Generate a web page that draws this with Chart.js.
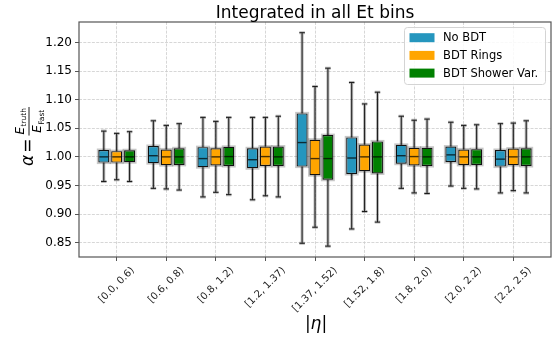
<!DOCTYPE html>
<html>
<head>
<meta charset="utf-8">
<script src="https://cdn.jsdelivr.net/npm/chart.js@4.4.0/dist/chart.umd.min.js"></script>
<style>
  html, body { margin: 0; padding: 0; background: #fff; }
  canvas { display: block; }
</style>
</head>
<body>
<canvas id="chart" width="554" height="341"></canvas>
<script>
// |eta| bins on the horizontal axis
const categories = ['[0.0, 0.6)', '[0.6, 0.8)', '[0.8, 1.2)', '[1.2, 1.37)', '[1.37, 1.52)',
                    '[1.52, 1.8)', '[1.8, 2.0)', '[2.0, 2.2)', '[2.2, 2.5)'];
const yTickValues = [0.85, 0.90, 0.95, 1.00, 1.05, 1.10, 1.15, 1.20];
const seriesNames = ['No BDT', 'BDT Rings', 'BDT Shower Var.'];
const seriesColors = ['#2596be', '#ffa500', '#008000'];

// No BDT: quartiles, median and whisker ends per bin
const noBdtQ1  = [0.990, 0.989, 0.982, 0.980, 0.983, 0.970, 0.988, 0.991, 0.983];
const noBdtMed = [1.000, 1.002, 0.997, 0.995, 1.025, 0.998, 1.002, 1.0035, 0.996];
const noBdtQ3  = [1.012, 1.019, 1.017, 1.015, 1.076, 1.034, 1.021, 1.018, 1.012];
const noBdtLo  = [0.957, 0.945, 0.930, 0.925, 0.849, 0.874, 0.945, 0.949, 0.937];
const noBdtHi  = [1.045, 1.063, 1.069, 1.069, 1.217, 1.130, 1.071, 1.0605, 1.058];

// BDT Rings
const ringsQ1  = [0.990, 0.9855, 0.985, 0.984, 0.968, 0.975, 0.985, 0.986, 0.9855];
const ringsMed = [1.000, 1.000, 1.000, 1.0005, 0.997, 1.000, 1.0005, 1.000, 1.000];
const ringsQ3  = [1.010, 1.013, 1.015, 1.018, 1.030, 1.0215, 1.016, 1.013, 1.0145];
const ringsLo  = [0.960, 0.944, 0.938, 0.932, 0.877, 0.9045, 0.937, 0.945, 0.941];
const ringsHi  = [1.041, 1.055, 1.062, 1.069, 1.123, 1.0925, 1.064, 1.055, 1.059];

// BDT Shower Var.
const showerQ1  = [0.9907, 0.986, 0.984, 0.984, 0.960, 0.971, 0.984, 0.986, 0.984];
const showerMed = [1.000, 1.000, 1.0005, 1.000, 0.997, 1.000, 1.000, 1.000, 1.000];
const showerQ3  = [1.0116, 1.015, 1.0175, 1.018, 1.038, 1.027, 1.016, 1.0135, 1.015];
const showerLo  = [0.957, 0.942, 0.934, 0.930, 0.844, 0.886, 0.936, 0.944, 0.937];
const showerHi  = [1.044, 1.058, 1.069, 1.071, 1.155, 1.113, 1.066, 1.056, 1.063];

const series = [
  { q1: noBdtQ1,  med: noBdtMed,  q3: noBdtQ3,  lo: noBdtLo,  hi: noBdtHi },
  { q1: ringsQ1,  med: ringsMed,  q3: ringsQ3,  lo: ringsLo,  hi: ringsHi },
  { q1: showerQ1, med: showerMed, q3: showerQ3, lo: showerLo, hi: showerHi }
];
const positions = categories.map((_, i) => i + 1);

const FONT = "'DejaVu Sans', 'Liberation Sans', sans-serif";

// whiskers, caps, outlines and medians around the floating-bar boxes
const boxDecor = {
  id: 'boxDecor',
  beforeDatasetsDraw(chart) {
    const ctx = chart.ctx, ys = chart.scales.y;
    series.forEach((s, di) => {
      chart.getDatasetMeta(di).data.forEach((bar, j) => {
        const x = bar.x, w = bar.width, cap = w / 2;
        const yHi = ys.getPixelForValue(s.hi[j]);
        const yLo = ys.getPixelForValue(s.lo[j]);
        const yQ3 = ys.getPixelForValue(s.q3[j]);
        const yQ1 = ys.getPixelForValue(s.q1[j]);
        [[3, 'rgba(0,0,0,0.28)'], [1, '#1a1a1a']].forEach(([lw, col]) => {
          ctx.save();
          ctx.lineWidth = lw; ctx.strokeStyle = col;
          ctx.beginPath();
          ctx.moveTo(x, yQ3); ctx.lineTo(x, yHi);
          ctx.moveTo(x, yQ1); ctx.lineTo(x, yLo);
          ctx.moveTo(x - cap / 2, yHi); ctx.lineTo(x + cap / 2, yHi);
          ctx.moveTo(x - cap / 2, yLo); ctx.lineTo(x + cap / 2, yLo);
          ctx.stroke();
          ctx.restore();
        });
        ctx.save();
        ctx.lineWidth = 3; ctx.strokeStyle = 'rgba(0,0,0,0.22)';
        ctx.strokeRect(x - w / 2, yQ3, w, yQ1 - yQ3);
        ctx.restore();
      });
    });
  },
  afterDatasetsDraw(chart) {
    const ctx = chart.ctx, ys = chart.scales.y;
    series.forEach((s, di) => {
      chart.getDatasetMeta(di).data.forEach((bar, j) => {
        const ym = ys.getPixelForValue(s.med[j]);
        ctx.save();
        ctx.lineWidth = 1.4; ctx.strokeStyle = 'rgba(0,0,0,0.72)';
        ctx.beginPath();
        ctx.moveTo(bar.x - bar.width / 2 + 1, ym); ctx.lineTo(bar.x + bar.width / 2 - 1, ym);
        ctx.stroke();
        ctx.restore();
      });
    });
  },
  afterDraw(chart) {
    const ctx = chart.ctx, area = chart.chartArea, xs = chart.scales.x;

    // frame
    ctx.save();
    ctx.lineWidth = 1.2; ctx.strokeStyle = '#555';
    ctx.strokeRect(area.left, area.top, area.right - area.left, area.bottom - area.top);
    ctx.restore();

    // legend
    ctx.save();
    const lx = 404.5, ly = 27.5, lw = 141, lh = 57, r = 3;
    ctx.beginPath();
    ctx.moveTo(lx + r, ly); ctx.lineTo(lx + lw - r, ly); ctx.arcTo(lx + lw, ly, lx + lw, ly + r, r);
    ctx.lineTo(lx + lw, ly + lh - r); ctx.arcTo(lx + lw, ly + lh, lx + lw - r, ly + lh, r);
    ctx.lineTo(lx + r, ly + lh); ctx.arcTo(lx, ly + lh, lx, ly + lh - r, r);
    ctx.lineTo(lx, ly + r); ctx.arcTo(lx, ly, lx + r, ly, r);
    ctx.closePath();
    ctx.fillStyle = 'rgba(255,255,255,0.85)'; ctx.fill();
    ctx.strokeStyle = '#d4d4d4'; ctx.lineWidth = 1; ctx.stroke();
    ctx.font = `11.5px ${FONT}`; ctx.textBaseline = 'middle'; ctx.textAlign = 'left';
    seriesNames.forEach((name, i) => {
      const cy = 37.7 + i * 17.7;
      ctx.fillStyle = seriesColors[i];
      ctx.fillRect(409.5, cy - 4.5, 25, 9);
      ctx.fillStyle = '#000';
      ctx.fillText(name, 443, cy + 0.5);
    });
    ctx.restore();

    // title
    ctx.save();
    ctx.font = `17px ${FONT}`; ctx.fillStyle = '#000';
    ctx.textAlign = 'center'; ctx.textBaseline = 'alphabetic';
    ctx.fillText('Integrated in all Et bins', (area.left + area.right) / 2, 17.5);
    ctx.restore();

    // rotated bin labels
    ctx.save();
    ctx.font = `10px ${FONT}`; ctx.fillStyle = '#222';
    ctx.textAlign = 'center'; ctx.textBaseline = 'middle';
    categories.forEach((lab, i) => {
      const px = xs.getPixelForValue(positions[i]);
      const L = ctx.measureText(lab).width, h = 11;
      const cy = 265 + (L + h) * Math.SQRT1_2 / 2;
      ctx.save();
      ctx.translate(px, cy);
      ctx.rotate(-Math.PI / 4);
      ctx.fillText(lab, 0, 0);
      ctx.restore();
    });
    ctx.restore();

    // x-axis title |eta|
    ctx.save();
    ctx.fillStyle = '#000'; ctx.textBaseline = 'alphabetic'; ctx.textAlign = 'left';
    ctx.font = `17px ${FONT}`;
    const wb = ctx.measureText('|').width;
    ctx.font = `italic 17px ${FONT}`;
    const we = ctx.measureText('η').width;
    let sx = 316 - (2 * wb + we) / 2;
    ctx.font = `17px ${FONT}`; ctx.fillText('|', sx, 329); sx += wb;
    ctx.font = `italic 17px ${FONT}`; ctx.fillText('η', sx, 329); sx += we;
    ctx.font = `17px ${FONT}`; ctx.fillText('|', sx, 329);
    ctx.restore();

    // y-axis title: alpha = E_truth / E_Fast
    ctx.save();
    ctx.translate(33, 166);
    ctx.rotate(-Math.PI / 2);
    ctx.fillStyle = '#000'; ctx.strokeStyle = '#000';
    ctx.textBaseline = 'alphabetic'; ctx.textAlign = 'left';
    let u = 0;
    ctx.font = `italic 17px ${FONT}`;
    ctx.fillText('α', u, 0); u += ctx.measureText('α').width + 2;
    ctx.font = `17px ${FONT}`;
    ctx.fillText('=', u, 0); u += ctx.measureText('=').width + 3;
    const term = (sub) => {
      ctx.font = `italic 12px ${FONT}`; const a = ctx.measureText('E').width;
      ctx.font = `7.5px ${FONT}`; const b = ctx.measureText(sub).width;
      return { a, b, w: a + b + 0.5 };
    };
    const drawTerm = (sub, t, u0, v) => {
      ctx.font = `italic 12px ${FONT}`; ctx.fillText('E', u0, v);
      ctx.font = `7.5px ${FONT}`; ctx.fillText(sub, u0 + t.a + 0.5, v + 2.5);
    };
    const tn = term('truth'), td = term('Fast');
    const W = Math.max(tn.w, td.w) + 2;
    const uc = u + W / 2;
    drawTerm('truth', tn, uc - tn.w / 2, -9.5);
    drawTerm('Fast', td, uc - td.w / 2, 8);
    ctx.lineWidth = 0.9;
    ctx.beginPath(); ctx.moveTo(u, -4); ctx.lineTo(u + W, -4); ctx.stroke();
    ctx.restore();
  }
};

const gridOpts = {
  color: '#cdcdcd', lineWidth: 0.8, offset: false,
  drawTicks: true, tickLength: 4, tickColor: '#555', tickWidth: 1
};

new Chart(document.getElementById('chart'), {
  type: 'bar',
  data: {
    datasets: series.map((s, i) => ({
      label: seriesNames[i],
      data: positions.map((p, j) => ({ x: p, y: [s.q1[j], s.q3[j]] })),
      backgroundColor: seriesColors[i],
      borderColor: '#111',
      borderWidth: 1.2,
      borderSkipped: false,
      categoryPercentage: 0.78,
      barPercentage: 0.85
    }))
  },
  options: {
    responsive: false,
    animation: false,
    devicePixelRatio: 1,
    layout: { padding: { top: 22, right: 3, left: 0, bottom: 0 } },
    plugins: { legend: { display: false }, tooltip: { enabled: false }, title: { display: false } },
    scales: {
      x: {
        type: 'linear', min: 0.24, max: 9.76, offset: false, bounds: 'data',
        afterBuildTicks: sc => { sc.ticks = positions.map(v => ({ value: v })); },
        afterFit: sc => { sc.height = 84; },
        ticks: { display: false },
        grid: gridOpts,
        border: { display: false, dash: [3, 1.3] }
      },
      y: {
        type: 'linear', min: 0.825, max: 1.2357, bounds: 'data',
        afterBuildTicks: sc => { sc.ticks = yTickValues.map(v => ({ value: v })); },
        afterFit: sc => { sc.width = 79; },
        ticks: {
          font: { family: FONT, size: 12 }, color: '#000', padding: 3,
          callback: v => Number(v).toFixed(2)
        },
        grid: gridOpts,
        border: { display: false, dash: [3, 1.3] }
      }
    }
  },
  plugins: [boxDecor]
});
</script>
</body>
</html>
